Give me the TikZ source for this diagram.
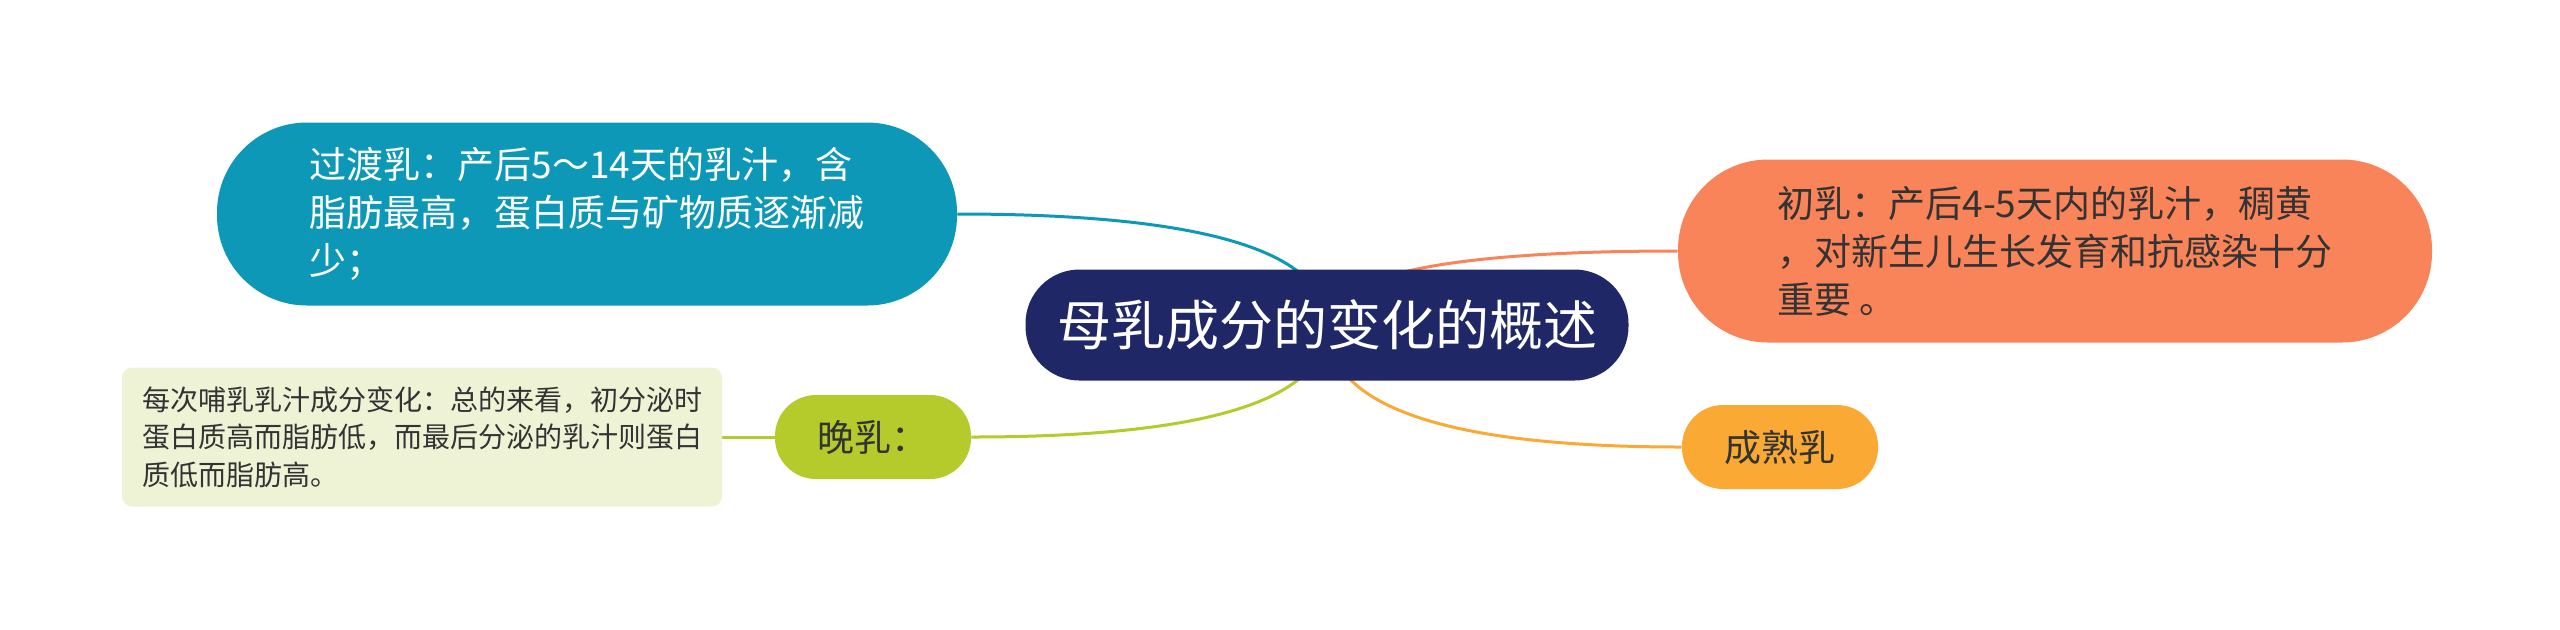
\documentclass[tikz,border=0pt]{standalone}
\usepackage{fontspec}
\setmainfont{Noto Sans CJK SC}
\usepackage{xcolor}
\usetikzlibrary{backgrounds,calc}

\definecolor{mapnavy}{RGB}{31,39,102}
\definecolor{mapteal}{RGB}{13,152,184}
\definecolor{mapcoral}{RGB}{249,132,90}
\definecolor{mapgreen}{RGB}{181,202,43}
\definecolor{mapamber}{RGB}{250,170,52}
\definecolor{mappale}{RGB}{239,243,214}
\definecolor{maptext}{RGB}{51,51,51}

% quadratic curve from the centre topic to one anchor
\newcommand{\branchlink}[2]{%
	\coordinate (bend) at (topic.center |- #2);
	\draw[link, #1] (topic.center) .. controls ($(topic.center)!2/3!(bend)$) and ($(#2)!2/3!(bend)$) .. (#2);}

\begin{document}
\begin{tikzpicture}[x=0.5pt, y=-0.5pt,
	centre/.style={rectangle, fill=mapnavy, rounded corners=27pt, minimum width=301.5pt, minimum height=55.5pt, inner sep=0pt, text=white, font=\fontsize{27}{32}\selectfont},
	branch/.style={rectangle, rounded corners=45pt, minimum width=375pt, minimum height=91.5pt, inner sep=0pt, align=left, font=\fontsize{18.5}{24}\selectfont},
	leaf/.style={rectangle, rounded corners=20.5pt, minimum width=98pt, minimum height=42pt, inner sep=0pt, text=maptext, font=\fontsize{18.5}{24}\selectfont},
	note/.style={rectangle, fill=mappale, rounded corners=5pt, minimum width=300pt, minimum height=69.5pt, inner sep=0pt, align=left, text=maptext, font=\fontsize{14}{18.75}\selectfont},
	link/.style={line width=1.5pt}]
	
	\useasboundingbox (0,0) rectangle (2560,629);
	
	%Centre
	\node[centre] (topic) at (1327,325) {母乳成分的变化的概述};
	
	%Left branches
	\node[branch, fill=mapteal, text=white, minimum width=370pt] (guodu) at (587,214) {过渡乳：产后5～14天的乳汁，含\\脂肪最高，蛋白质与矿物质逐渐减\\少；};
	\node[leaf, fill=mapgreen] (wanru) at (873,437) {晚乳：};
	\node[note] (meici) at (422,437) {每次哺乳乳汁成分变化：总的来看，初分泌时\\蛋白质高而脂肪低，而最后分泌的乳汁则蛋白\\质低而脂肪高。};
	
	%Right branches
	\node[branch, fill=mapcoral, text=maptext, minimum width=377pt] (churu) at (2055,251) {初乳：产后4-5天内的乳汁，稠黄\\，对新生儿生长发育和抗感染十分\\重要 。};
	\node[leaf, fill=mapamber] (chengshu) at (1780,447) {成熟乳};
	
	%Lines
	\begin{scope}[on background layer]
		\branchlink{mapteal}{guodu.east}
		\branchlink{mapcoral}{churu.west}
		\branchlink{mapgreen}{wanru.east}
		\branchlink{mapamber}{chengshu.west}
		\draw[link, mapgreen] (wanru.west) -- (meici.east);
	\end{scope}
\end{tikzpicture}
\end{document}
